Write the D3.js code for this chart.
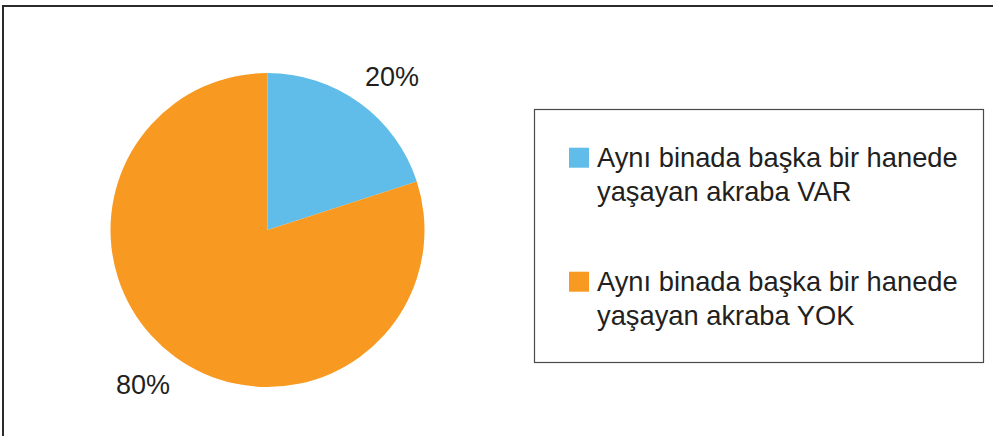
<!DOCTYPE html>
<html>
<head>
<meta charset="utf-8">
<script src="https://cdn.jsdelivr.net/npm/d3@7"></script>
<style>
  html, body { margin: 0; padding: 0; background: #fff; }
  svg { display: block; }
</style>
</head>
<body>
<svg id="chart" width="993" height="436"></svg>
<script>
const categories = [
  ["Aynı binada başka bir hanede", "yaşayan akraba VAR"],
  ["Aynı binada başka bir hanede", "yaşayan akraba YOK"]
];
const values = [20, 80];
const valueLabels = ["20%", "80%"];
const colors = ["#60bce8", "#f89a21"];

const svg = d3.select("#chart");
const textColor = "#231f20";
const fontFamily = "'Liberation Sans', Arial, Helvetica, sans-serif";

// outer frame (extends past right and bottom edges)
svg.append("rect")
  .attr("x", 3).attr("y", 6)
  .attr("width", 1000).attr("height", 500)
  .attr("fill", "none")
  .attr("stroke", "#2d2a2b")
  .attr("stroke-width", 2);

const cx = 267.5, cy = 230, R = 157;
const pie = d3.pie().sort(null).value(d => d)(values);
const arc = d3.arc().innerRadius(0).outerRadius(R);

const g = svg.append("g").attr("transform", `translate(${cx},${cy})`);
g.selectAll("path.slice")
  .data(pie)
  .join("path")
  .attr("class", "slice")
  .attr("d", arc)
  .attr("fill", (d, i) => colors[i]);

// labels outside the pie
const labelR = 198;
const offset = 3 * Math.PI / 180;
g.selectAll("text.lbl")
  .data(pie)
  .join("text")
  .attr("class", "lbl")
  .attr("x", d => labelR * Math.sin((d.startAngle + d.endAngle) / 2 + offset))
  .attr("y", d => -labelR * Math.cos((d.startAngle + d.endAngle) / 2 + offset))
  .attr("dy", "0.36em")
  .attr("text-anchor", "middle")
  .attr("font-family", fontFamily)
  .attr("font-size", 27)
  .attr("fill", textColor)
  .text((d, i) => valueLabels[i]);

// legend
const lg = svg.append("g");
lg.append("rect")
  .attr("x", 534.5).attr("y", 109.5)
  .attr("width", 449).attr("height", 253)
  .attr("fill", "#fff")
  .attr("stroke", "#4a4a4a")
  .attr("stroke-width", 1.2);

const entryY = d3.scaleOrdinal().domain([0, 1]).range([147.7, 271.7]);
categories.forEach((lines, i) => {
  const y0 = entryY(i);
  lg.append("rect")
    .attr("x", 569).attr("y", y0)
    .attr("width", 20).attr("height", 20)
    .attr("fill", colors[i]);
  const t = lg.append("text")
    .attr("font-family", fontFamily)
    .attr("font-size", 27.3)
    .attr("fill", textColor);
  lines.forEach((ln, j) => {
    t.append("tspan")
      .attr("x", 597)
      .attr("y", y0 + 19 + j * 34.5)
      .text(ln);
  });
});
</script>
</body>
</html>
